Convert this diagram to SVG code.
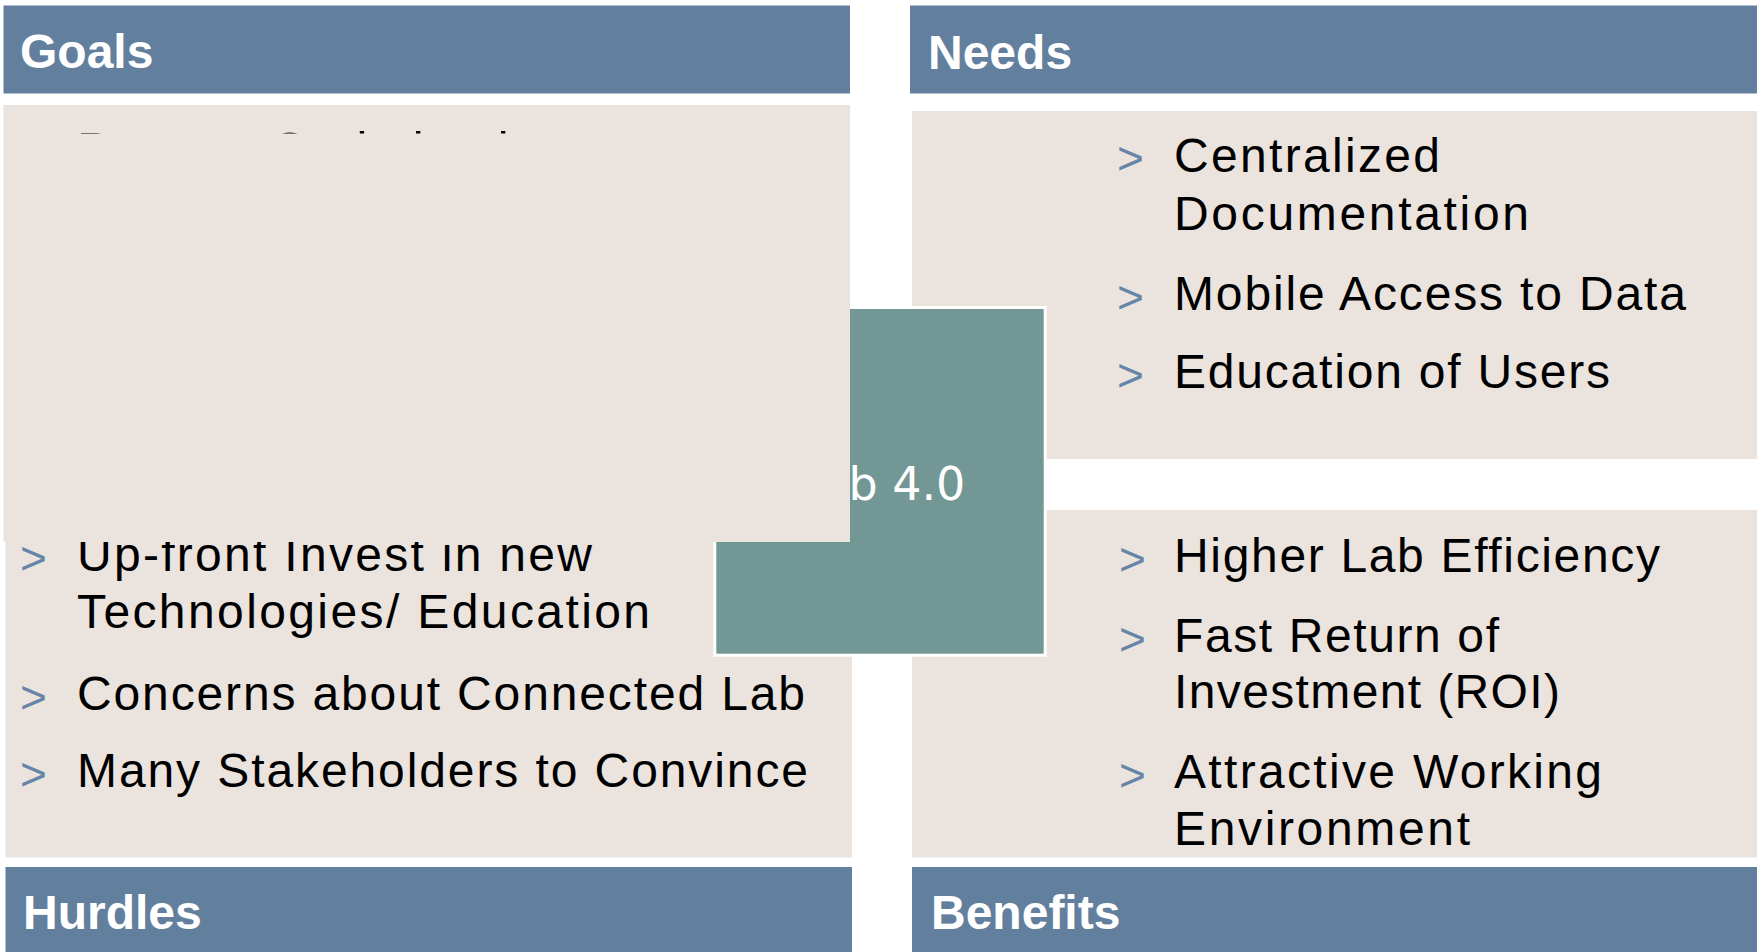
<svg xmlns="http://www.w3.org/2000/svg" width="1763" height="952" viewBox="0 0 1763 952">
<defs>
<style>
.hdr{fill:#62809e}
.body{fill:#ebe3dd}
.htxt{font-family:"Liberation Sans",Arial,sans-serif;font-weight:bold;font-size:48px;fill:#ffffff}
.txt{font-family:"Liberation Sans",Arial,sans-serif;font-size:48px;fill:#000000}
.bul{font-family:"Liberation Sans",Arial,sans-serif;font-size:46px;fill:#6785a7}
.ctr{fill:#739794;stroke:#ffffff;stroke-width:3}
.ctxt{font-family:"DejaVu Sans",Verdana,sans-serif;font-size:46px;fill:#ffffff}
</style>
<clipPath id="goalsClip"><rect x="0" y="105" width="850" height="28.6"/></clipPath>
</defs>
<rect width="1763" height="952" fill="#ffffff"/>

<g id="goals-header">
<rect class="hdr" x="3.5" y="5.5" width="846.5" height="88"/>
<text class="htxt" x="20" y="68">Goals</text>
</g>

<g id="needs-header">
<rect class="hdr" x="910" y="5.5" width="847" height="88"/>
<text class="htxt" x="928" y="69">Needs</text>
</g>

<g id="needs">
<rect class="body" x="912" y="111" width="845" height="348"/>
<text class="bul" x="1117" y="174">&gt;</text>
<text class="txt" x="1174" y="171.5" textLength="266" lengthAdjust="spacing">Centralized</text>
<text class="txt" x="1174" y="230" textLength="355" lengthAdjust="spacing">Documentation</text>
<text class="bul" x="1117" y="313">&gt;</text>
<text class="txt" x="1174" y="310" textLength="512" lengthAdjust="spacing">Mobile Access to Data</text>
<text class="bul" x="1117" y="391">&gt;</text>
<text class="txt" x="1174" y="388" textLength="436" lengthAdjust="spacing">Education of Users</text>
</g>

<g id="benefits">
<rect class="body" x="912" y="510" width="845" height="347.5"/>
<text class="bul" x="1119" y="574.5">&gt;</text>
<text class="txt" x="1174" y="571.5" textLength="486" lengthAdjust="spacing">Higher Lab Efficiency</text>
<text class="bul" x="1119" y="654.5">&gt;</text>
<text class="txt" x="1174" y="651.5" textLength="325" lengthAdjust="spacing">Fast Return of</text>
<text class="txt" x="1174" y="708" textLength="386" lengthAdjust="spacing">Investment (ROI)</text>
<text class="bul" x="1119" y="791">&gt;</text>
<text class="txt" x="1174" y="788" textLength="428" lengthAdjust="spacing">Attractive Working</text>
<text class="txt" x="1174" y="845" textLength="296" lengthAdjust="spacing">Environment</text>
</g>

<g id="hurdles">
<rect class="body" x="5.5" y="510" width="846.5" height="347.5"/>
<text class="bul" x="20" y="574">&gt;</text>
<text class="txt" x="77" y="571" textLength="515" lengthAdjust="spacing">Up-front Invest in new</text>
<text class="txt" x="77" y="628" textLength="573" lengthAdjust="spacing">Technologies/ Education</text>
<text class="bul" x="20" y="713">&gt;</text>
<text class="txt" x="77" y="710" textLength="728" lengthAdjust="spacing">Concerns about Connected Lab</text>
<text class="bul" x="20" y="790">&gt;</text>
<text class="txt" x="77" y="787" textLength="731" lengthAdjust="spacing">Many Stakeholders to Convince</text>
</g>

<g id="hurdles-header">
<rect class="hdr" x="5.5" y="867" width="846.5" height="85"/>
<text class="htxt" x="23" y="929">Hurdles</text>
</g>

<g id="benefits-header">
<rect class="hdr" x="912" y="867" width="845" height="85"/>
<text class="htxt" x="931" y="929">Benefits</text>
</g>

<g id="center">
<rect class="ctr" x="714.8" y="307.5" width="330.4" height="347.7"/>
<text class="ctxt" x="880" y="499.5" text-anchor="middle">Lab 4.0</text>
</g>

<g id="goals">
<rect class="body" x="3.5" y="105" width="846.5" height="437"/>
<g clip-path="url(#goalsClip)">
<text class="bul" x="20" y="169">&gt;</text>
<text class="txt" y="166"><tspan x="77" style="font-size:49px">Process </tspan><tspan x="271" style="font-size:49px;letter-spacing:2.2px">Optimization</tspan></text>
</g>
</g>

<g id="connectors"></g>
</svg>
